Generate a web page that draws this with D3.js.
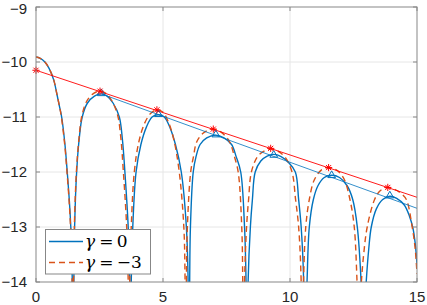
<!DOCTYPE html>
<html>
<head>
<meta charset="UTF-8">
<title>Lobes</title>
<script src="https://cdn.jsdelivr.net/npm/d3@7"></script>
<style>
  body { margin: 0; background: #fff; }
  text { font-family: "Liberation Sans", Arial, sans-serif; }
</style>
</head>
<body>
<svg id="chart" width="427" height="305"></svg>
<script>
var xTicks = [0, 5, 10, 15];
var yTicks = [-14, -13, -12, -11, -10, -9];

var g0Lobe1 = [[0,-9.91],[0.15,-9.93],[0.35,-10.0],[0.52,-10.12],[0.7,-10.33],[0.83,-10.6],[0.93,-10.82],[1.01,-11],[1.14,-11.5],[1.23,-12],[1.31,-12.5],[1.37,-13],[1.42,-13.7],[1.47,-16]];
var g0Lobe2 = [[1.47,-16],[1.49,-14],[1.52,-13],[1.60,-12],[1.70,-11.4],[1.82,-11],[2.02,-10.75],[2.3,-10.62],[2.57,-10.58],[2.8,-10.62],[3.04,-10.75],[3.28,-11],[3.40,-11.4],[3.50,-12],[3.63,-13],[3.69,-14],[3.72,-16]];
var g0Lobe3 = [[3.72,-16],[3.75,-14],[3.81,-13],[3.94,-12],[4.13,-11.5],[4.35,-11.18],[4.57,-11.0],[4.82,-10.96],[5.05,-11.0],[5.28,-11.2],[5.49,-11.5],[5.72,-12],[5.92,-13],[5.99,-14],[6.03,-16]];
var g0Lobe4 = [[6.03,-16],[6.05,-14],[6.08,-13],[6.19,-12],[6.30,-11.72],[6.46,-11.5],[6.72,-11.38],[7.08,-11.33],[7.40,-11.38],[7.70,-11.5],[7.88,-11.72],[8.06,-12],[8.21,-13],[8.27,-14],[8.31,-16]];
var g0Lobe5 = [[8.31,-16],[8.35,-14],[8.44,-13],[8.52,-12.5],[8.63,-12],[8.85,-11.8],[9.1,-11.71],[9.36,-11.68],[9.65,-11.72],[9.95,-11.83],[10.21,-12],[10.34,-12.5],[10.44,-13],[10.54,-14],[10.58,-16]];
var g0Lobe6 = [[10.58,-16],[10.62,-14.6],[10.67,-14],[10.76,-13],[10.92,-12.5],[11.1,-12.25],[11.35,-12.1],[11.64,-12.06],[11.95,-12.1],[12.25,-12.25],[12.47,-12.5],[12.65,-13],[12.80,-14],[12.84,-14.6],[12.88,-16]];
var g0Lobe7 = [[12.88,-16],[12.93,-14.6],[13.0,-14],[13.1,-13.4],[13.2,-13],[13.4,-12.67],[13.65,-12.5],[13.93,-12.44],[14.2,-12.48],[14.5,-12.6],[14.7,-12.8],[14.84,-13.02],[14.93,-13.3],[15,-13.68]];

// gamma = -3
var g3Lobe1 = [[0,-9.91],[0.15,-9.93],[0.35,-10.0],[0.52,-10.12],[0.7,-10.33],[0.83,-10.6],[0.93,-10.82],[1.0,-11],[1.13,-11.5],[1.22,-12],[1.30,-12.5],[1.36,-13],[1.41,-13.7],[1.46,-16]];
var g3Lobe2 = [[1.46,-16],[1.48,-14],[1.51,-13],[1.59,-12],[1.69,-11.4],[1.81,-10.97],[2.0,-10.71],[2.27,-10.57],[2.52,-10.53],[2.75,-10.57],[2.98,-10.7],[3.21,-10.96],[3.34,-11.38],[3.44,-12],[3.57,-13],[3.63,-14],[3.66,-16]];
var g3Lobe3 = [[3.66,-16],[3.69,-14],[3.75,-13],[3.87,-12],[4.05,-11.45],[4.27,-11.12],[4.52,-10.93],[4.76,-10.87],[4.99,-10.91],[5.22,-11.1],[5.43,-11.42],[5.64,-12],[5.82,-13],[5.87,-14],[5.90,-16]];
var g3Lobe4 = [[5.90,-16],[5.92,-14],[5.96,-13],[6.09,-12],[6.20,-11.72],[6.33,-11.45],[6.62,-11.28],[6.98,-11.22],[7.30,-11.28],[7.62,-11.45],[7.80,-11.7],[7.96,-12],[8.10,-13],[8.14,-14],[8.17,-16]];
var g3Lobe5 = [[8.17,-16],[8.21,-14],[8.29,-13],[8.37,-12.5],[8.48,-12],[8.72,-11.72],[8.98,-11.62],[9.24,-11.58],[9.52,-11.62],[9.82,-11.74],[10.08,-12],[10.22,-12.5],[10.34,-13],[10.44,-14],[10.47,-16]];
var g3Lobe6 = [[10.47,-16],[10.50,-14.5],[10.53,-14],[10.62,-13],[10.76,-12.5],[10.95,-12.15],[11.22,-11.97],[11.52,-11.92],[11.82,-11.96],[12.12,-12.12],[12.36,-12.5],[12.53,-13],[12.64,-14],[12.68,-14.5],[12.72,-16]];
var g3Lobe7 = [[12.72,-16],[12.76,-14.5],[12.81,-14],[12.9,-13.5],[13.04,-13],[13.33,-12.5],[13.55,-12.34],[13.84,-12.28],[14.1,-12.31],[14.35,-12.38],[14.58,-12.5],[14.81,-13],[14.93,-13.4],[15,-13.85]];

var gamma0 = [g0Lobe1, g0Lobe2, g0Lobe3, g0Lobe4, g0Lobe5, g0Lobe6, g0Lobe7];
var gamma3 = [g3Lobe1, g3Lobe2, g3Lobe3, g3Lobe4, g3Lobe5, g3Lobe6, g3Lobe7];

// peaks and the straight lines through them
var starX = [0, 2.52, 4.76, 6.98, 9.24, 11.52, 13.85];
var starY = [-10.15, -10.53, -10.87, -11.22, -11.57, -11.92, -12.28];
var triX = [2.57, 4.82, 7.08, 9.36, 11.64, 13.93];
var triY = [-10.58, -10.96, -11.33, -11.70, -12.07, -12.44];
var redLineX = [0, 15], redLineY = [-10.15, -12.46];
var blueLineX = [2.57, 15], blueLineY = [-10.58, -12.66];

var legendLabels = ["γ", "= 0", "= −3"];

var svg = d3.select("#chart");
var mLeft = 36, mRight = 417, mTop = 7, mBottom = 282;

var x = d3.scaleLinear().domain([0, 15]).range([mLeft, mRight]);
var y = d3.scaleLinear().domain([-14, -9]).range([mBottom, mTop]);

var blue = "#0072BD", orange = "#D95319";

svg.append("defs").append("clipPath").attr("id", "plotclip")
  .append("rect").attr("x", mLeft).attr("y", mTop)
  .attr("width", mRight - mLeft).attr("height", mBottom - mTop);

// grid
svg.append("g").selectAll("line").data(xTicks.slice(1, -1)).enter().append("line")
  .attr("x1", d => x(d)).attr("x2", d => x(d))
  .attr("y1", mTop).attr("y2", mBottom)
  .attr("stroke", "#e6e6e6").attr("stroke-width", 1);
svg.append("g").selectAll("line").data(yTicks.slice(1, -1)).enter().append("line")
  .attr("x1", mLeft).attr("x2", mRight)
  .attr("y1", d => y(d)).attr("y2", d => y(d))
  .attr("stroke", "#e6e6e6").attr("stroke-width", 1);

var plot = svg.append("g").attr("clip-path", "url(#plotclip)");

var line = d3.line()
  .x(d => x(d[0])).y(d => y(d[1]))
  .curve(d3.curveCatmullRom.alpha(0.5));

plot.selectAll(".g0").data(gamma0).enter().append("path")
  .attr("d", line).attr("fill", "none")
  .attr("stroke", blue).attr("stroke-width", 1.4);

plot.selectAll(".g3").data(gamma3).enter().append("path")
  .attr("d", line).attr("fill", "none")
  .attr("stroke", orange).attr("stroke-width", 1.4)
  .attr("stroke-dasharray", "6,4");

var straight = d3.line().x(d => x(d[0])).y(d => y(d[1]));

plot.append("path")
  .attr("d", straight(d3.zip(redLineX, redLineY)))
  .attr("stroke", "#ff0000").attr("stroke-width", 0.9).attr("fill", "none");
plot.append("path")
  .attr("d", straight(d3.zip(blueLineX, blueLineY)))
  .attr("stroke", blue).attr("stroke-width", 0.8).attr("fill", "none");

// triangle markers
var tri = d3.symbol().type(d3.symbolTriangle).size(26);
svg.append("g").selectAll("path").data(d3.zip(triX, triY)).enter().append("path")
  .attr("d", tri)
  .attr("transform", d => "translate(" + x(d[0]) + "," + (y(d[1]) - 0.5) + ")")
  .attr("fill", "none").attr("stroke", blue).attr("stroke-width", 1);

// star markers
function star(r) {
  var a = r * Math.SQRT1_2;
  return "M" + (-r) + ",0H" + r + "M0," + (-r) + "V" + r +
    "M" + (-a) + "," + (-a) + "L" + a + "," + a +
    "M" + (-a) + "," + a + "L" + a + "," + (-a);
}
svg.append("g").selectAll("path").data(d3.zip(starX, starY)).enter().append("path")
  .attr("d", star(3.6))
  .attr("transform", d => "translate(" + x(d[0]) + "," + y(d[1]) + ")")
  .attr("fill", "none").attr("stroke", "#ff0000").attr("stroke-width", 1);

// axes box and ticks
var axisColor = "#878787";
svg.append("rect").attr("x", mLeft).attr("y", mTop)
  .attr("width", mRight - mLeft).attr("height", mBottom - mTop)
  .attr("fill", "none").attr("stroke", axisColor).attr("stroke-width", 1);

var tk = 4;
svg.append("g").selectAll("line").data(xTicks).enter().append("line")
  .attr("x1", d => x(d)).attr("x2", d => x(d))
  .attr("y1", mBottom).attr("y2", mBottom - tk).attr("stroke", axisColor);
svg.append("g").selectAll("line").data(xTicks).enter().append("line")
  .attr("x1", d => x(d)).attr("x2", d => x(d))
  .attr("y1", mTop).attr("y2", mTop + tk).attr("stroke", axisColor);
svg.append("g").selectAll("line").data(yTicks).enter().append("line")
  .attr("x1", mLeft).attr("x2", mLeft + tk)
  .attr("y1", d => y(d)).attr("y2", d => y(d)).attr("stroke", axisColor);
svg.append("g").selectAll("line").data(yTicks).enter().append("line")
  .attr("x1", mRight).attr("x2", mRight - tk)
  .attr("y1", d => y(d)).attr("y2", d => y(d)).attr("stroke", axisColor);

var fmt = d => String(d).replace("-", "\u2212");
svg.append("g").selectAll("text").data(xTicks).enter().append("text")
  .attr("x", d => x(d)).attr("y", 302)
  .attr("text-anchor", "middle").attr("font-size", 15).attr("fill", "#262626")
  .text(fmt);
svg.append("g").selectAll("text").data(yTicks).enter().append("text")
  .attr("x", mLeft - 9).attr("y", d => Math.max(y(d), 9)).attr("dy", "0.36em")
  .attr("text-anchor", "end").attr("font-size", 15).attr("fill", "#262626")
  .text(fmt);

// legend
var lg = svg.append("g");
lg.append("rect").attr("x", 45.5).attr("y", 229.5).attr("width", 105).attr("height", 44.5)
  .attr("fill", "#fff").attr("stroke", axisColor).attr("stroke-width", 1);
var rows = [{c: blue, dash: null, t: legendLabels[1], yy: 241.5},
            {c: orange, dash: "6,4", t: legendLabels[2], yy: 262.5}];
rows.forEach(function(r) {
  lg.append("line").attr("x1", 49).attr("x2", 83).attr("y1", r.yy).attr("y2", r.yy)
    .attr("stroke", r.c).attr("stroke-width", 1.4).attr("stroke-dasharray", r.dash);
  var t = lg.append("text").attr("x", 85).attr("y", r.yy + 5.5)
    .attr("font-size", 17).attr("fill", "#000")
    .style("font-family", "'DejaVu Serif', 'Liberation Serif', serif");
  t.append("tspan").attr("font-style", "italic").text(legendLabels[0]);
  t.append("tspan").attr("dx", 4).text(r.t.replace(" ", "\u2009"));
});
</script>
</body>
</html>
